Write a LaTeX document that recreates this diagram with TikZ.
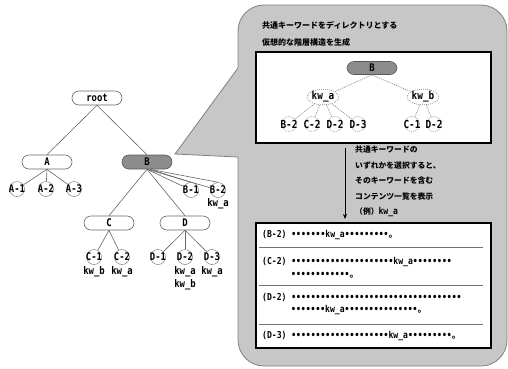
\documentclass[tikz,border=0pt]{standalone}
\usepackage{fontspec}
\setmainfont{Liberation Sans}
\newfontfamily\jp{Noto Sans CJK JP}
\newfontfamily\mo{DejaVu Sans Mono}[FakeStretch=0.85]
\usetikzlibrary{shapes.geometric,arrows.meta}
\newcommand\dts[1]{\foreach\i in {1,...,#1}{•}}
\newcommand\mru{{\jp 。}}
\begin{document}
\begin{tikzpicture}[x=1pt,y=-1pt,
  tb/.style={draw=black!60, fill=white, rounded corners=7pt, minimum width=50pt, minimum height=14pt, inner sep=0pt, font=\fontsize{10.5}{10.5}\selectfont\mo\bfseries, line width=0.6pt},
  gb/.style={tb, fill=black!45, draw=black!65},
  lf/.style={circle, draw=black!50, minimum size=15pt, inner sep=-4pt, font=\fontsize{10.5}{10.5}\selectfont\mo\bfseries, line width=0.5pt},
  dlf/.style={lf, draw=black!45, dash pattern=on 1pt off 1pt, font=\fontsize{11}{11}\selectfont\mo\bfseries},
  kwl/.style={inner sep=0pt, font=\fontsize{10.5}{10.5}\selectfont\mo\bfseries},
  kwe/.style={ellipse, draw=black!45, dash pattern=on 1pt off 1pt, inner sep=0pt, minimum height=13pt, font=\fontsize{11}{11}\selectfont\mo\bfseries, line width=0.6pt},
  ln/.style={draw=black!60, line width=0.6pt},
  dl/.style={draw=black!45, dash pattern=on 1pt off 1pt, line width=0.7pt},
  callout/.style={fill=black!22, draw=black!50, line width=0.8pt},
  panel/.style={draw=black, fill=white, line width=1.2pt, inner sep=0pt},
  jt/.style={font=\fontsize{8}{8}\selectfont\jp\bfseries, inner sep=0pt, anchor=west},
  jn/.style={font=\fontsize{7.8}{15.5}\selectfont\jp\bfseries, inner sep=0pt, anchor=north west, align=left},
  rowt/.style={inner sep=0pt, anchor=west, font=\fontsize{9.5}{9.5}\selectfont\mo\bfseries},
  sep/.style={draw=black!55, line width=0.5pt}
]
\useasboundingbox[fill=white] (0,0) rectangle (508,368);

% callout balloon
\draw[callout, rounded corners=26pt] (238,5) rectangle (507,366);
\fill[black!22] (239.2,66.3) -- (175,154) -- (239.2,157) -- cycle;
\draw[draw=black!50, line width=0.8pt] (238,68) -- (175,154) -- (238,157);

% left tree
\node[tb] (root) at (97,98) {root};
\node[tb] (A) at (47,162) {A};
\node[gb] (B) at (147,162) {B};
\node[lf] (a1) at (17,189) {A-1};
\node[lf] (a2) at (46,189) {A-2};
\node[lf] (a3) at (74,189) {A-3};
\node[lf] (b1) at (191,190) {B-1};
\node[lf] (b2) at (218,190) {B-2};
\node[kwl] (b2k) at (218,204) {kw\_a};
\node[tb] (C) at (109,223) {C};
\node[tb] (D) at (185,223) {D};
\node[lf] (c1) at (94,257) {C-1};
\node[lf] (c2) at (122,257) {C-2};
\node[kwl] (c1k) at (94,272) {kw\_b};
\node[kwl] (c2k) at (122,272) {kw\_a};
\node[lf] (d1) at (158,257) {D-1};
\node[lf] (d2) at (185,257) {D-2};
\node[lf] (d3) at (212,257) {D-3};
\node[kwl] (d2k) at (185,272) {kw\_a};
\node[kwl] (d2kb) at (185,285) {kw\_b};
\node[kwl] (d3k) at (212,272) {kw\_a};

\draw[ln] (root.south) -- (A.north);
\draw[ln] (root.south) -- (B.north);
\draw[ln] (A.south) -- (a1);
\draw[ln] (A.south) -- (a2);
\draw[ln] (A.south) -- (a3);
\draw[ln] (B.south) -- (b1);
\draw[ln] ([xshift=3pt]B.south) -- (b1.north);
\draw[ln] (B.south) -- (b2);
\draw[ln] ([xshift=3pt]B.south) -- (b2.north);
\draw[ln] (B.south) -- (C.north);
\draw[ln] (B.south) -- (D.north);
\draw[ln] (C.south) -- (c1);
\draw[ln] (C.south) -- (c2);
\draw[ln] (D.south) -- (d1);
\draw[ln] (D.south) -- (d2);
\draw[ln] (D.south) -- (d3);

% title
\node[jt] (t1) at (262,25) {共通キーワードをディレクトリとする};
\node[jt] (t2) at (262,42) {仮想的な階層構造を生成};

% upper panel
\node[panel, minimum width=235pt, minimum height=91pt] (box1) at (373.5,97.5) {};
\node[gb, minimum height=13pt] (ib) at (372,68) {B};
\node[kwe] (ika) at (323,97) {kw\_a};
\node[kwe] (ikb) at (423,97) {kw\_b};
\node[dlf] (ib2) at (289,124) {B-2};
\node[dlf] (ic2) at (312,124) {C-2};
\node[dlf] (id2) at (335,124) {D-2};
\node[dlf] (id3) at (358,124) {D-3};
\node[dlf] (ic1) at (412,124) {C-1};
\node[dlf] (id2b) at (434,124) {D-2};
\draw[dl] (ib.south) -- (ika);
\draw[dl] (ib.south) -- (ikb);
\draw[dl] (ika) -- (ib2);
\draw[dl] (ika) -- (ic2);
\draw[dl] (ika) -- (id2);
\draw[dl] (ika) -- (id3);
\draw[dl] (ikb) -- (ic1);
\draw[dl] (ikb) -- (id2b);

% lower panel
\node[panel, minimum width=235pt, minimum height=125pt] (box2) at (373.5,285.5) {};
\coordinate (ar1) at (345,143);
\coordinate (ar2) at (345,223);
\draw[line width=0.8pt, -{Stealth[length=5pt,width=4pt]}, shorten <=5pt, shorten >=4pt] (ar1) -- (ar2);
\node[jn] (expl) at (355,146) {共通キーワードの\\いずれかを選択すると、\\そのキーワードを含む\\コンテンツ一覧を表示\\（例）{\fontsize{9.5}{15.5}\selectfont\mo\bfseries kw\_a}};

\draw[sep] (259,247) -- (483,247);
\draw[sep] (259,285) -- (483,285);
\draw[sep] (259,324) -- (483,324);

\node[rowt] (r1) at (262,235) {(B-2) \dts{7}kw\_a\dts{9}\mru};
\node[rowt] (r2) at (262,262) {(C-2) \dts{21}kw\_a\dts{8}};
\node[rowt] (r2b) at (291,275) {\dts{12}\mru};
\node[rowt] (r3) at (262,298) {(D-2) \dts{35}};
\node[rowt] (r3b) at (291,310) {\dts{7}kw\_a\dts{15}\mru};
\node[rowt] (r4) at (262,336) {(D-3) \dts{20}kw\_a\dts{9}\mru};
\end{tikzpicture}
\end{document}
